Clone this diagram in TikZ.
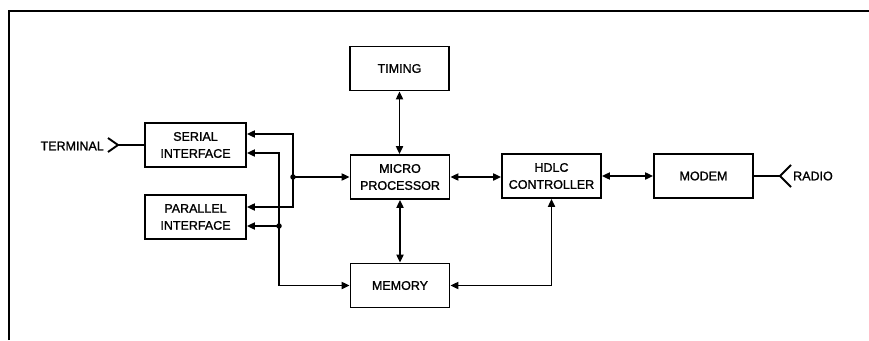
\documentclass[tikz,border=0pt]{standalone}
\usepackage{fontspec}
\setmainfont{Liberation Sans}[FakeBold=1.3]
\usetikzlibrary{arrows.meta,calc}
\begin{document}
\begin{tikzpicture}[x=1pt,y=-1pt,
  blk/.style={draw,line width=1.8pt,minimum width=99pt,minimum height=44pt,inner sep=0pt,align=center,
    font=\fontsize{12.5}{17}\selectfont},
  lbl/.style={inner sep=0pt,font=\fontsize{12.5}{17}\selectfont},
  wire/.style={line width=1.9pt},
  tip/.style={-{Triangle[length=8pt,width=7pt]}},
  tipb/.style={{Triangle[length=8pt,width=7pt]}-{Triangle[length=8pt,width=7pt]}},
  tipr/.style={{Triangle[length=8pt,width=7pt]}-},
  dot/.style={circle,fill,inner sep=0pt,minimum size=5.5pt}]
\useasboundingbox (0,0) rectangle (869,340);
% frame
\draw[line width=2.8pt] (9,340) -- (9,11) -- (869,11);
% blocks
\node[blk] (timing) at (399.5,68.5) {TIMING};
\node[blk] (mp) at (400,177) {MICRO\\PROCESSOR};
\node[blk] (mem) at (400,285.5) {MEMORY};
\node[blk] (hdlc) at (551.5,176) {HDLC\\CONTROLLER};
\node[blk] (modem) at (703.5,176) {MODEM};
\node[blk,minimum width=101pt] (ser) at (195.5,145) {SERIAL\\INTERFACE};
\node[blk,minimum width=101pt] (par) at (195.5,217) {PARALLEL\\INTERFACE};
% labels
\node[lbl,anchor=east] (term) at (104,146) {TERMINAL};
\node[lbl,anchor=west] (radio) at (793,176) {RADIO};
% antennas
\coordinate (ta) at (118,145);
\coordinate (ra) at (780,176);
\draw[wire] (ser.west) -- (ta);
\draw[wire] ($(ta)+(-10,-7)$) -- (ta) -- ($(ta)+(-10,7)$);
\draw[wire] (modem.east) -- (ra);
\draw[wire] ($(ra)+(11,-11)$) -- (ra) -- ($(ra)+(11,11)$);
% junctions
\node[dot] (j1) at (293,177) {};
\node[dot] (j2) at (279,226) {};
% bus wiring
\draw[wire,tip] (j1.center) -- (mp.west);
\draw[wire,tip] (j1.center) |- ($(ser.east)+(0,-11)$);
\draw[wire,tip] (j1.center) |- ($(par.east)+(0,-10)$);
\draw[wire,tip] (j2.center) -- ($(par.east)+(0,9)$);
\draw[wire,tipr] ($(ser.east)+(0,8)$) -| (j2.center);
\draw[wire,tip] (j2.center) |- (mem.west);
% main connections
\draw[wire,tipb] (timing.south) -- (timing.south |- mp.north);
\draw[wire,tipb] (mp.south) -- (mp.south |- mem.north);
\draw[wire,tipb] (mp.east) -- (hdlc.west |- mp.east);
\draw[wire,tipb] (hdlc.east) -- (modem.west);
\draw[wire,tipb] (mem.east) -| (hdlc.south);
\end{tikzpicture}
\end{document}
